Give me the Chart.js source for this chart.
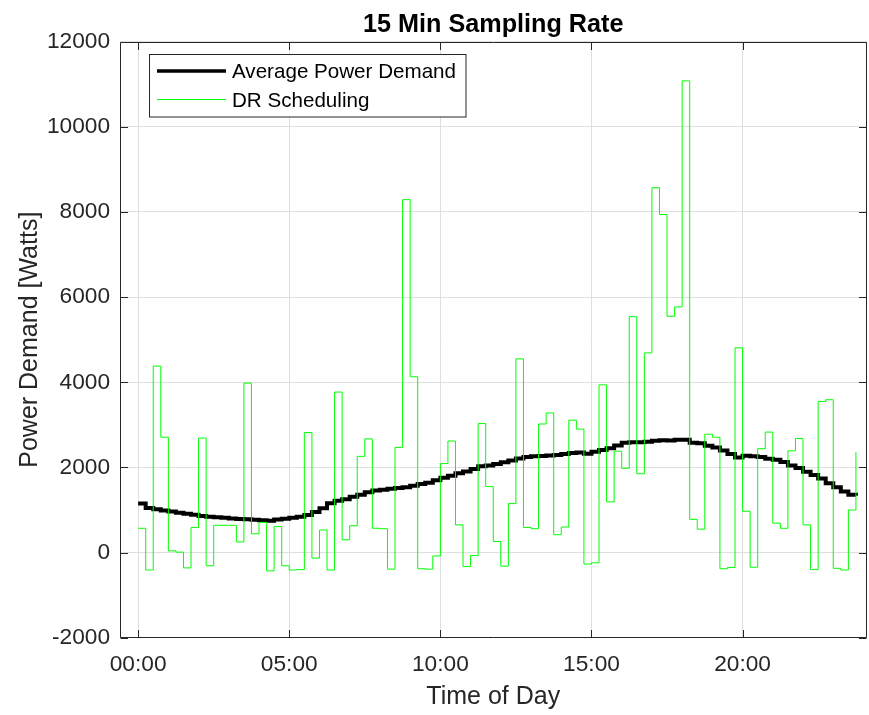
<!DOCTYPE html>
<html>
<head>
<meta charset="utf-8">
<title>15 Min Sampling Rate</title>
<script src="https://cdn.jsdelivr.net/npm/chart.js@4.4.1/dist/chart.umd.min.js"></script>
<style>
    html, body { margin: 0; padding: 0; background: #fff; }
</style>
</head>
<body>
<canvas id="chart" width="869" height="715"></canvas>
<script>
// one sample every 15 minutes, 96 samples over the day
const sampleMinutes = 15;
const xTickHours = [0, 5, 10, 15, 20];
const yTickValues = [-2000, 0, 2000, 4000, 6000, 8000, 10000, 12000];
const seriesNames = ['Average Power Demand', 'DR Scheduling'];
const chartTitle = '15 Min Sampling Rate';

const avgDemand = [
    1150, 1045, 1020, 990, 965, 935, 910, 890, 860, 840, 830, 815,
    800, 790, 780, 770, 760, 750, 775, 795, 815, 840, 880, 955,
    1040, 1160, 1215, 1255, 1310, 1360, 1415, 1455, 1475, 1500, 1515, 1535,
    1570, 1610, 1640, 1700, 1760, 1805, 1865, 1905, 1960, 2025, 2045, 2080,
    2120, 2160, 2210, 2245, 2265, 2270, 2280, 2290, 2315, 2340, 2350, 2320,
    2370, 2410, 2450, 2515, 2580, 2590, 2590, 2605, 2625, 2640, 2635, 2650,
    2650, 2580, 2570, 2510, 2470, 2400, 2315, 2235, 2275, 2260, 2245, 2205,
    2180, 2125, 2045, 1985, 1900, 1820, 1740, 1630, 1535, 1435, 1355, 1335
];

const drSchedule = [
    570, -410, 4380, 2710, 40, 10, -360, 590, 2690, -310, 640, 640,
    640, 250, 3980, 440, 710, -430, 610, -310, -410, -400, 2820, -130,
    530, -410, 3770, 300, 630, 2260, 2670, 570, 560, -390, 2470, 8290,
    4130, -380, -390, -80, 2090, 2620, 650, -330, -70, 3030, 1550, 260,
    -320, 1150, 4550, 590, 560, 3020, 3280, 420, 600, 3110, 2900, -270,
    -240, 3940, 1190, 2380, 1980, 5540, 1850, 4690, 8570, 7940, 5550, 5770,
    11080, 780, 550, 2780, 2710, -380, -350, 4810, 970, -345, 2440, 2830,
    690, 570, 2390, 2680, 650, -400, 3550, 3590, -370, -410, 1000, 2360
];

const FONT = '"Liberation Sans", Arial, Helvetica, sans-serif';
const AXIS_COLOR = '#262626';

function toPoints(values) {
    return values.map((v, i) => ({ x: i * sampleMinutes / 60, y: v }));
}

// box, inward tick marks, title and legend drawn the way MATLAB does it
const matlabAxes = {
    id: 'matlabAxes',
    afterDatasetsDraw(chart) {
        const { ctx, chartArea: a, scales: { x, y } } = chart;
        const tl = 7.5;
        const L = Math.round(a.left) + 0.5, R = Math.round(a.right) - 0.5;
        const T = Math.round(a.top) + 0.5, B = Math.round(a.bottom) - 0.5;

        ctx.save();
        ctx.strokeStyle = AXIS_COLOR;
        ctx.lineWidth = 1;
        ctx.beginPath();
        ctx.rect(L, T, R - L, B - T);
        x.ticks.forEach(t => {
            const px = Math.round(x.getPixelForValue(t.value)) + 0.5;
            ctx.moveTo(px, B); ctx.lineTo(px, B - tl);
            ctx.moveTo(px, T); ctx.lineTo(px, T + tl);
        });
        y.ticks.forEach(t => {
            const py = Math.round(y.getPixelForValue(t.value)) + 0.5;
            ctx.moveTo(L, py); ctx.lineTo(L + tl, py);
            ctx.moveTo(R, py); ctx.lineTo(R - tl, py);
        });
        ctx.stroke();

        // title centred over the axes, not the canvas
        ctx.fillStyle = '#000';
        ctx.font = 'bold 25.2px ' + FONT;
        ctx.textAlign = 'center';
        ctx.textBaseline = 'alphabetic';
        ctx.fillText(chartTitle, (a.left + a.right) / 2, 31.7);

        // legend
        const lx = 149.5, ly = 54.5, lw = 316.5, lh = 62.5;
        ctx.fillStyle = '#fff';
        ctx.fillRect(lx, ly, lw, lh);
        ctx.strokeRect(lx, ly, lw, lh);
        const rows = [71, 99.5];
        chart.data.datasets.forEach((ds, i) => {
            ctx.strokeStyle = ds.borderColor;
            ctx.lineWidth = Math.min(ds.borderWidth, 3.5);
            ctx.beginPath();
            ctx.moveTo(157, rows[i]);
            ctx.lineTo(226, rows[i]);
            ctx.stroke();
            ctx.fillStyle = '#000';
            ctx.font = '20.6px ' + FONT;
            ctx.textBaseline = 'middle';
            ctx.textAlign = 'left';
            ctx.fillText(ds.label, 232, rows[i] + 1.5);
        });
        ctx.restore();
    }
};

const ctx = document.getElementById('chart');

new Chart(ctx, {
    type: 'line',
    data: {
        datasets: [
            {
                label: seriesNames[0],
                data: toPoints(avgDemand),
                borderColor: '#000000',
                borderWidth: 4,
                stepped: true,
                pointRadius: 0,
                order: 1
            },
            {
                label: seriesNames[1],
                data: toPoints(drSchedule),
                borderColor: '#00ff00',
                borderWidth: 1,
                stepped: true,
                pointRadius: 0,
                order: 0
            }
        ]
    },
    options: {
        responsive: false,
        animation: false,
        events: [],
        layout: { padding: { top: 41.7, right: 2.5, bottom: 0, left: 0 } },
        plugins: {
            legend: { display: false },
            tooltip: { enabled: false },
            title: { display: false }
        },
        scales: {
            x: {
                type: 'linear',
                min: -0.6,
                max: 24.1,
                afterBuildTicks: scale => { scale.ticks = xTickHours.map(v => ({ value: v })); },
                afterFit: scale => { scale.height = 77.3; },
                grid: { color: '#dfdfdf', lineWidth: 1, drawTicks: false },
                border: { display: false },
                ticks: {
                    color: AXIS_COLOR,
                    font: { family: FONT, size: 22.7 },
                    padding: 13,
                    maxRotation: 0,
                    callback: v => String(v).padStart(2, '0') + ':00'
                },
                title: {
                    display: true,
                    text: 'Time of Day',
                    color: AXIS_COLOR,
                    font: { family: FONT, size: 25 },
                    padding: { top: 0, bottom: 3 }
                }
            },
            y: {
                min: -2000,
                max: 12000,
                afterBuildTicks: scale => { scale.ticks = yTickValues.map(v => ({ value: v })); },
                afterFit: scale => { scale.width = 120; },
                grid: { color: '#dfdfdf', lineWidth: 1, drawTicks: false },
                border: { display: false },
                ticks: {
                    color: AXIS_COLOR,
                    font: { family: FONT, size: 22.7 },
                    padding: 10,
                    callback: v => String(v)
                },
                title: {
                    display: true,
                    text: 'Power Demand [Watts]',
                    color: AXIS_COLOR,
                    font: { family: FONT, size: 25 },
                    padding: { top: 15, bottom: 0 }
                }
            }
        }
    },
    plugins: [matlabAxes]
});
</script>
</body>
</html>
